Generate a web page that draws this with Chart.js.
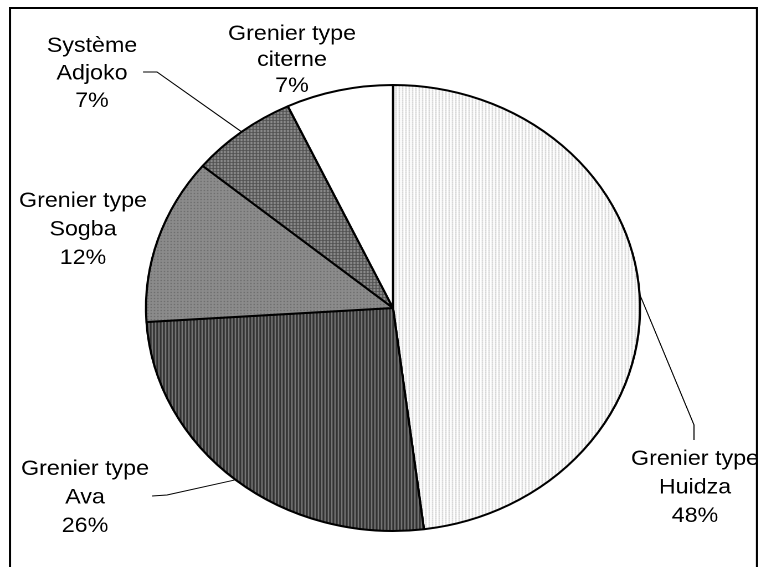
<!DOCTYPE html>
<html>
<head>
<meta charset="utf-8">
<script src="https://cdn.jsdelivr.net/npm/chart.js"></script>
<style>
  html, body { margin: 0; padding: 0; background: #fff; overflow: hidden; }
  #wrap { width: 687px; height: 567px; transform: scaleX(1.1077); transform-origin: 0 0; }
</style>
</head>
<body>
<div id="wrap"><canvas id="chart1" width="687" height="567"></canvas></div>
<script>
// data
const categories = ['Grenier type Huidza', 'Grenier type Ava', 'Grenier type Sogba', 'Système Adjoko', 'Grenier type citerne'];
const labelLines = [['Grenier type', 'Huidza'], ['Grenier type', 'Ava'], ['Grenier type', 'Sogba'], ['Système', 'Adjoko'], ['Grenier type', 'citerne']];
const shares = [48, 26, 12, 7, 7];

// the original picture is stretched sideways, so the canvas is too
const SX = 1.1077;

// small fill patterns, like the old excel hatches
function makePattern(w, h, base, dots) {
    const c = document.createElement('canvas');
    c.width = w; c.height = h;
    const g = c.getContext('2d');
    g.fillStyle = base;
    g.fillRect(0, 0, w, h);
    dots.forEach(d => { g.fillStyle = d[2]; g.fillRect(d[0], d[1], 1, 1); });
    return g.createPattern(c, 'repeat');
}
const fills = [
    makePattern(3, 2, '#ffffff', [[0, 0, '#c2c2c2'], [0, 1, '#e2e2e2']]),
    makePattern(3, 1, '#323232', [[2, 0, '#8a8a8a']]),
    makePattern(3, 3, '#8c8c8c', [[1, 1, '#5a5a5a']]),
    makePattern(3, 3, '#939393', [[0, 0, '#4e4e4e'], [1, 0, '#4e4e4e'], [2, 0, '#4e4e4e'], [0, 1, '#4e4e4e'], [0, 2, '#4e4e4e']]),
    '#ffffff'
];

// where the labels sit (screen px): centre x, first baseline, line step, leader path from the slice
const labelPos = [
    { x: 695, y: 465, step: 28.5, leader: [[694, 425], [694, 440]] },
    { x: 85, y: 475, step: 28.5, leader: [[167, 495], [152, 496]] },
    { x: 83, y: 207, step: 28.5, leader: null },
    { x: 92, y: 52, step: 27.5, leader: [[157, 72], [143, 72]] },
    { x: 292, y: 40, step: 26, leader: null }
];

const framePlugin = {
    id: 'frame',
    beforeDraw(chart) {
        const ctx = chart.ctx;
        ctx.save();
        ctx.strokeStyle = '#000';
        ctx.lineWidth = 2;
        ctx.strokeRect(10 / SX, 8, 747 / SX, 600);
        ctx.restore();
    }
};

const labelPlugin = {
    id: 'sliceLabels',
    afterDraw(chart) {
        const ctx = chart.ctx;
        const meta = chart.getDatasetMeta(0);
        ctx.save();
        ctx.fillStyle = '#000';
        ctx.strokeStyle = '#000';
        ctx.lineWidth = 1;
        ctx.font = '21px "Liberation Sans", Arial, sans-serif';
        ctx.textAlign = 'center';
        ctx.textBaseline = 'alphabetic';
        meta.data.forEach((arc, i) => {
            const p = arc.getProps(['x', 'y', 'startAngle', 'endAngle', 'outerRadius'], true);
            const pos = labelPos[i];
            if (pos.leader) {
                const mid = (p.startAngle + p.endAngle) / 2;
                ctx.beginPath();
                ctx.moveTo(p.x + Math.cos(mid) * p.outerRadius, p.y + Math.sin(mid) * p.outerRadius);
                pos.leader.forEach(pt => ctx.lineTo(pt[0] / SX, pt[1]));
                ctx.stroke();
            }
            const lines = labelLines[i].concat([shares[i] + '%']);
            lines.forEach((t, k) => ctx.fillText(t, pos.x / SX, pos.y + k * pos.step));
        });
        ctx.restore();
    }
};

const ctx = document.getElementById('chart1');
new Chart(ctx, {
    type: 'pie',
    data: {
        labels: categories,
        datasets: [{
            data: shares,
            backgroundColor: fills,
            borderColor: '#000',
            borderWidth: 2,
            hoverOffset: 0
        }]
    },
    options: {
        responsive: false,
        animation: false,
        devicePixelRatio: 2,
        radius: 223,
        layout: { padding: { top: 85, bottom: 36, left: 120, right: 97.4 } },
        plugins: {
            legend: { display: false },
            tooltip: { enabled: false }
        }
    },
    plugins: [framePlugin, labelPlugin]
});
</script>
</body>
</html>
